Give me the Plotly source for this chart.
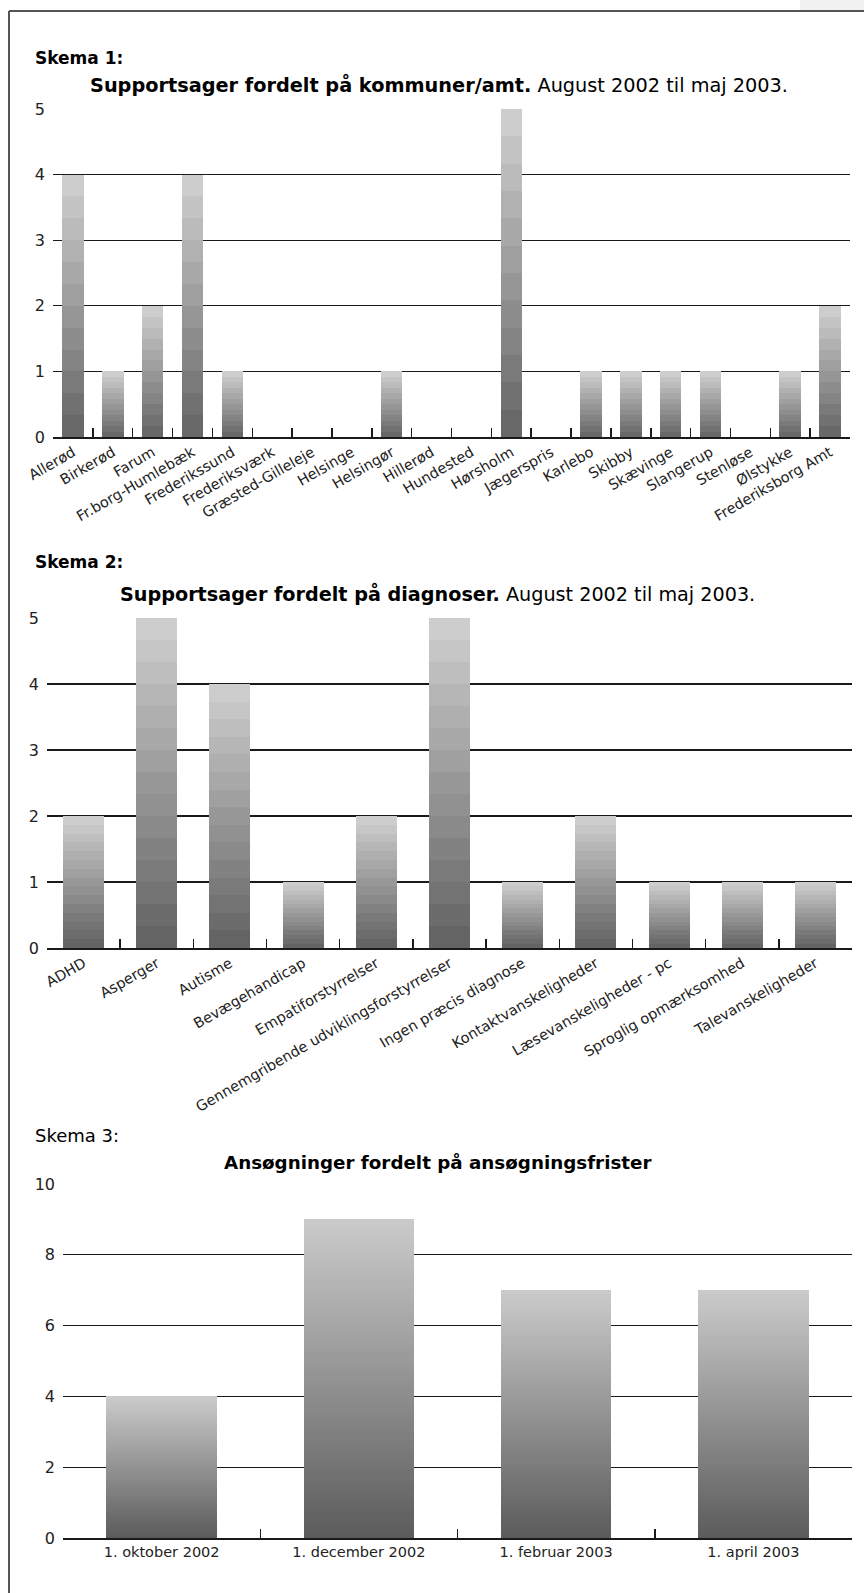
import plotly.graph_objects as go

W, H = 864, 1593

# ---------------- data ----------------
kommuner = ["Allerød", "Birkerød", "Farum", "Fr.borg-Humlebæk", "Frederikssund",
            "Frederiksværk", "Græsted-Gilleleje", "Helsinge", "Helsingør", "Hillerød",
            "Hundested", "Hørsholm", "Jægerspris", "Karlebo", "Skibby", "Skævinge",
            "Slangerup", "Stenløse", "Ølstykke", "Frederiksborg Amt"]
kommuner_vals = [4, 1, 2, 4, 1, 0, 0, 0, 1, 0, 0, 5, 0, 1, 1, 1, 1, 0, 1, 2]

diagnoser = ["ADHD", "Asperger", "Autisme", "Bevægehandicap", "Empatiforstyrrelser",
             "Gennemgribende udviklingsforstyrrelser", "Ingen præcis diagnose",
             "Kontaktvanskeligheder", "Læsevanskeligheder - pc",
             "Sproglig opmærksomhed", "Talevanskeligheder"]
diagnoser_vals = [2, 5, 4, 1, 2, 5, 1, 2, 1, 1, 1]

frister = ["1. oktober 2002", "1. december 2002", "1. februar 2003", "1. april 2003"]
frister_vals = [4, 9, 7, 7]

y1_ticks = [0, 1, 2, 3, 4, 5]
y2_ticks = [0, 1, 2, 3, 4, 5]
y3_ticks = [0, 2, 4, 6, 8, 10]

# ---------------- helpers ----------------
def px(x):
    return x / W

def py(y):
    return 1 - y / H

def lerp_color(c0, c1, t):
    r = round(c0[0] + (c1[0] - c0[0]) * t)
    g = round(c0[1] + (c1[1] - c0[1]) * t)
    b = round(c0[2] + (c1[2] - c0[2]) * t)
    return f"rgb({r},{g},{b})"

FONT = "DejaVu Sans"
LINE = "#1a1a1a"

fig = go.Figure()

def add_bars(cats, vals, xa, ya, nbands, bottom, top, width):
    for k in range(nbands):
        t = k / (nbands - 1)
        fig.add_trace(go.Bar(
            x=cats, y=[v / nbands for v in vals],
            marker=dict(color=lerp_color(bottom, top, t), line=dict(width=0)),
            width=width, xaxis=xa, yaxis=ya, showlegend=False, hoverinfo="skip"))

add_bars(kommuner, kommuner_vals, "x", "y", 12, (104, 104, 104), (205, 205, 205), 0.54)
add_bars(diagnoser, diagnoser_vals, "x2", "y2", 15, (100, 100, 100), (205, 205, 205), 0.56)
add_bars(frister, frister_vals, "x3", "y3", 60, (92, 92, 92), (202, 202, 202), 0.56)

def xaxis_cfg(x0, x1, anchor, n, angle, size):
    return dict(domain=[px(x0), px(x1)], anchor=anchor, type="category", automargin=False,
                range=[-0.5, n - 0.5], showline=True, linecolor=LINE, linewidth=1.5,
                ticks="inside", ticklen=9, tickwidth=1.5, tickcolor=LINE,
                tickson="boundaries", showgrid=False, tickangle=angle,
                tickfont=dict(family=FONT, size=size, color="#222"), fixedrange=True)

def yaxis_cfg(ytop, ybot, anchor, rng, tickvals):
    return dict(domain=[py(ybot), py(ytop)], anchor=anchor, range=rng, automargin=False,
                tickvals=tickvals, ticktext=[str(v) for v in tickvals],
                showline=False, zeroline=False, showgrid=True, gridcolor=LINE, gridwidth=1.3,
                ticks="", ticklabelstandoff=7,
                tickfont=dict(family=FONT, size=16, color="#222"), fixedrange=True)

fig.update_layout(
    width=W, height=H, margin=dict(l=0, r=0, t=0, b=0, autoexpand=False),
    paper_bgcolor="white", plot_bgcolor="white", barmode="stack",
    xaxis=xaxis_cfg(53, 850, "y", len(kommuner), -30, 14.5),
    yaxis=yaxis_cfg(109, 437, "x", [0, 5], y1_ticks),
    xaxis2=xaxis_cfg(47, 852, "y2", len(diagnoser), -30, 14.5),
    yaxis2=yaxis_cfg(618, 948, "x2", [0, 5], y2_ticks),
    xaxis3=xaxis_cfg(63, 852, "y3", len(frister), 0, 14.5),
    yaxis3=yaxis_cfg(1184, 1538, "x3", [0, 10], y3_ticks),
)

def ann(text, x, y, size, xanchor="left"):
    fig.add_annotation(text=text, x=px(x), y=py(y), xref="paper", yref="paper",
                       xanchor=xanchor, yanchor="middle", showarrow=False,
                       font=dict(family=FONT, size=size, color="black"))

ann("<b>Skema 1:</b>", 33, 58, 17)
ann("<b>Supportsager fordelt på kommuner/amt.</b> August 2002 til maj 2003.", 439, 85, 19.3, "center")
ann("<b>Skema 2:</b>", 33, 562, 17)
ann("<b>Supportsager fordelt på diagnoser.</b> August 2002 til maj 2003.", 437, 594, 19.2, "center")
ann("Skema 3:", 33, 1135, 18)
ann("<b>Ansøgninger fordelt på ansøgningsfrister</b>", 437, 1162, 18.3, "center")

# page frame
fig.add_shape(type="rect", xref="paper", yref="paper", x0=px(800), x1=1, y0=py(10), y1=1,
              fillcolor="#f1f1f1", line=dict(width=0), layer="below")
fig.add_shape(type="line", xref="paper", yref="paper", x0=px(9), x1=1, y0=py(11), y1=py(11),
              line=dict(color="#555", width=2))
fig.add_shape(type="line", xref="paper", yref="paper", x0=px(9), x1=px(9), y0=0, y1=py(11),
              line=dict(color="#555", width=2))

fig.write_html("out.html",
               config={"displayModeBar": False, "staticPlot": True},
               post_script="document.body.style.margin='0';document.body.style.padding='0';")
